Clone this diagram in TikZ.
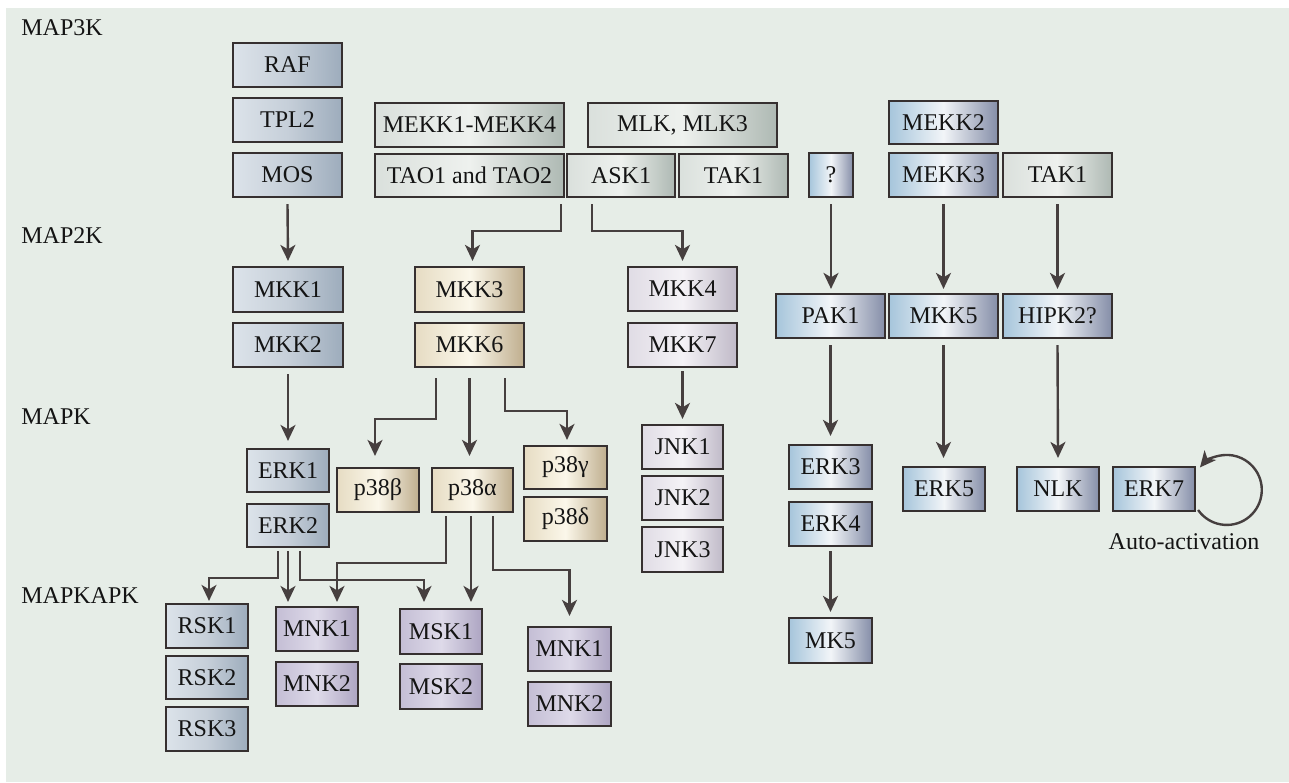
\documentclass[tikz,border=0pt]{standalone}
\usepackage{fontspec}
\setmainfont{Liberation Serif}
\usetikzlibrary{arrows.meta}
\definecolor{bgc}{HTML}{E6EDE7}
\definecolor{bordc}{HTML}{363030}
\definecolor{arrc}{HTML}{463F3F}
\definecolor{txtc}{HTML}{141414}
\definecolor{erkL}{HTML}{DCE3EA}
\definecolor{erkM}{HTML}{C6CFD9}
\definecolor{erkR}{HTML}{9DACBC}
\definecolor{grL}{HTML}{DAE0DC}
\definecolor{grM}{HTML}{EEF1EE}
\definecolor{grR}{HTML}{AEB9B3}
\definecolor{pL}{HTML}{E6DCC3}
\definecolor{pM}{HTML}{FBF7EA}
\definecolor{pR}{HTML}{BFAE8E}
\definecolor{jL}{HTML}{E0DCE5}
\definecolor{jM}{HTML}{F4F2F6}
\definecolor{jR}{HTML}{C0BAC8}
\definecolor{puL}{HTML}{C4BED5}
\definecolor{puM}{HTML}{DEDAE9}
\definecolor{puR}{HTML}{ADA5C2}
\definecolor{blL}{HTML}{A6C5DB}
\definecolor{blM}{HTML}{F2F5F8}
\definecolor{blR}{HTML}{858EA8}
\tikzset{
  kbox/.style={draw=bordc, line width=1.1pt, inner sep=0pt, text=txtc,
    font=\fontsize{12}{14}\selectfont},
  gERK/.style={left color=erkL, right color=erkR, middle color=erkM},
  gGr/.style={left color=grL, right color=grR, middle color=grM},
  gP38/.style={left color=pL, right color=pR, middle color=pM},
  gJNK/.style={left color=jL, right color=jR, middle color=jM},
  gPu/.style={left color=puL, right color=puR, middle color=puM},
  gBl/.style={left color=blL, right color=blR, middle color=blM},
  lab/.style={text=txtc, inner sep=0pt, font=\fontsize{12}{14}\selectfont},
  arr/.style={draw=arrc, line width=1.2pt, -{Stealth[length=8pt,width=7.5pt,inset=2.2pt]}},
}
\newcommand\kb[7]{\node[kbox,#6,minimum width={(#4-#2)*0.5pt},minimum height={(#5-#3)*0.5pt}] (#1) at ({(#2+#4)/2},{(#3+#5)/2}) {#7};}
\begin{document}
\begin{tikzpicture}[x=0.5pt,y=-0.5pt]
\useasboundingbox (0,0) rectangle (1289,782);
\fill[bgc] (6,8) rectangle (1289,782);
% level labels
\node[lab,anchor=west] (l3) at (21,28) {MAP3K};
\node[lab,anchor=west] (l2) at (21,236) {MAP2K};
\node[lab,anchor=west] (l1) at (21,417) {MAPK};
\node[lab,anchor=west] (l0) at (21,596) {MAPKAPK};
% MAP3K
\kb{raf}{233}{43}{342}{87}{gERK}{RAF}
\kb{tpl}{233}{98}{342}{142}{gERK}{TPL2}
\kb{mos}{233}{153}{342}{197}{gERK}{MOS}
\kb{mekk14}{375}{103}{564}{147}{gGr}{MEKK1-MEKK4}
\kb{mlk}{588}{103}{777}{147}{gGr}{MLK, MLK3}
\kb{tao}{375}{154}{564}{197}{gGr}{TAO1 and TAO2}
\kb{ask}{567}{154}{675}{197}{gGr}{ASK1}
\kb{taka}{679}{154}{788}{197}{gGr}{TAK1}
\kb{q}{809}{153}{853}{197}{gBl}{?}
\kb{mekk2}{889}{101}{998}{144}{gBl}{MEKK2}
\kb{mekk3}{889}{153}{998}{197}{gBl}{MEKK3}
\kb{takb}{1003}{153}{1112}{197}{gGr}{TAK1}
% MAP2K
\kb{mkk1}{233}{267}{343}{312}{gERK}{MKK1}
\kb{mkk2}{233}{323}{343}{367}{gERK}{MKK2}
\kb{mkk3}{415}{267}{524}{312}{gP38}{MKK3}
\kb{mkk6}{415}{323}{524}{367}{gP38}{MKK6}
\kb{mkk4}{628}{267}{737}{311}{gJNK}{MKK4}
\kb{mkk7}{628}{323}{737}{367}{gJNK}{MKK7}
\kb{pak1}{776}{294}{885}{338}{gBl}{PAK1}
\kb{mkk5}{889}{294}{998}{338}{gBl}{MKK5}
\kb{hipk}{1003}{294}{1112}{338}{gBl}{HIPK2?}
% MAPK
\kb{erk1}{247}{449}{329}{492}{gERK}{ERK1}
\kb{erk2}{247}{504}{329}{547}{gERK}{ERK2}
\kb{p38b}{337}{468}{419}{512}{gP38}{p38β}
\kb{p38a}{432}{468}{513}{512}{gP38}{p38α}
\kb{p38g}{524}{446}{607}{489}{gP38}{p38γ}
\kb{p38d}{524}{497}{607}{541}{gP38}{p38δ}
\kb{jnk1}{642}{425}{723}{469}{gJNK}{JNK1}
\kb{jnk2}{642}{476}{723}{520}{gJNK}{JNK2}
\kb{jnk3}{642}{527}{723}{572}{gJNK}{JNK3}
\kb{erk3}{789}{445}{872}{489}{gBl}{ERK3}
\kb{erk4}{789}{502}{872}{546}{gBl}{ERK4}
\kb{mk5}{789}{618}{872}{663}{gBl}{MK5}
\kb{erk5}{903}{467}{985}{511}{gBl}{ERK5}
\kb{nlk}{1017}{467}{1099}{511}{gBl}{NLK}
\kb{erk7}{1113}{467}{1195}{511}{gBl}{ERK7}
% MAPKAPK
\kb{rsk1}{166}{604}{248}{648}{gERK}{RSK1}
\kb{rsk2}{166}{656}{248}{699}{gERK}{RSK2}
\kb{rsk3}{166}{707}{248}{751}{gERK}{RSK3}
\kb{mnk1a}{276}{607}{358}{651}{gPu}{MNK1}
\kb{mnk2a}{276}{662}{358}{706}{gPu}{MNK2}
\kb{msk1}{400}{609}{482}{654}{gPu}{MSK1}
\kb{msk2}{400}{664}{482}{709}{gPu}{MSK2}
\kb{mnk1b}{528}{627}{611}{671}{gPu}{MNK1}
\kb{mnk2b}{528}{682}{611}{726}{gPu}{MNK2}
% connectors
\draw[arr] ([yshift=-3pt]mos.south) -- ([yshift=2.5pt]mkk1.north);
\draw[arr] ([xshift=-2pt,yshift=-3pt]tao.south east) -- ++(0,27) -| ([xshift=1.5pt,yshift=2.5pt]mkk3.north);
\draw[arr] ([xshift=13pt,yshift=-3pt]ask.south west) -- ++(0,27) -| ([yshift=2.5pt]mkk4.north);
\draw[arr] ([yshift=-3pt]q.south) -- ([yshift=2pt]pak1.north -| q.south);
\draw[arr] ([yshift=-3pt]mekk3.south) -- ([yshift=2pt]mkk5.north);
\draw[arr] ([yshift=-3pt]takb.south) -- ([yshift=2pt]hipk.north);
\draw[arr] ([yshift=-3pt]mkk2.south) -- ([yshift=3.5pt]erk1.north);
\draw[arr] ([xshift=-16.75pt,yshift=-5pt]mkk6.south) -- ++(0,41) -| ([xshift=-1.5pt,yshift=5.5pt]p38b.north);
\draw[arr] ([yshift=-5pt]mkk6.south) -- ([yshift=5.5pt]p38a.north -| mkk6.south);
\draw[arr] ([xshift=17.75pt,yshift=-5pt]mkk6.south) -- ++(0,33) -| ([xshift=0.75pt,yshift=2.5pt]p38g.north);
\draw[arr] ([yshift=-1.5pt]mkk7.south) -- ([yshift=2.5pt]jnk1.north);
\draw[arr] ([yshift=-3pt]pak1.south) -- ([yshift=4pt]erk3.north);
\draw[arr] ([yshift=-3pt]mkk5.south) -- ([yshift=4pt]erk5.north -| mkk5.south);
\draw[arr] ([yshift=-3pt]hipk.south) -- ([yshift=4pt]nlk.north);
\draw[arr] ([yshift=-2pt]erk4.south) -- ([yshift=2.5pt]mk5.north);
\draw[arr] ([xshift=-5pt,yshift=-1.5pt]erk2.south) -- ++(0,27) -| ([xshift=1pt,yshift=1pt]rsk1.north);
\draw[arr] ([yshift=-1.5pt]erk2.south) -- ([yshift=2pt]mnk1a.north -| erk2.south);
\draw[arr] ([xshift=6pt,yshift=-1.5pt]erk2.south) -- ++(0,29) -| ([xshift=-8.5pt,yshift=3pt]msk1.north);
\draw[arr] ([xshift=-13.25pt,yshift=-1.5pt]p38a.south) -- ++(0,47) -| ([xshift=10pt,yshift=2pt]mnk1a.north);
\draw[arr] ([xshift=-0.75pt,yshift=-1.5pt]p38a.south) -- ([xshift=-0.75pt,yshift=3pt]msk1.north -| p38a.south);
\draw[arr] ([xshift=10.25pt,yshift=-1.5pt]p38a.south) -- ++(0,54) -| ([yshift=5pt]mnk1b.north);
\draw[arr] ([xshift=1pt,yshift=-10.5pt]erk7.east) arc[start angle=215,end angle=500,radius=17.5pt];
\node[lab] (auto) at (1184,542) {Auto-activation};
\end{tikzpicture}
\end{document}
